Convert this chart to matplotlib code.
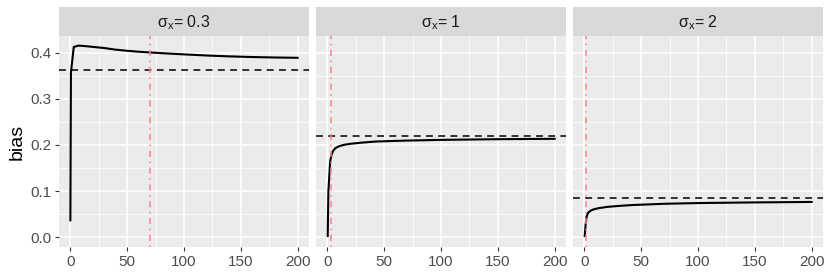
import numpy as np
import matplotlib
matplotlib.use("Agg")
import matplotlib.pyplot as plt
from matplotlib.ticker import MultipleLocator, FormatStrFormatter

plt.rcParams["font.family"] = ["Liberation Sans", "DejaVu Sans"]

# facet labels
facets = ["σ$_{\\mathregular{x}}$= 0.3", "σ$_{\\mathregular{x}}$= 1", "σ$_{\\mathregular{x}}$= 2"]

# bias curve per facet
x1 = [0, 0.5, 3, 7, 10, 15, 20, 30, 40, 50, 60, 70, 85, 100, 120, 140, 160, 180, 200]
y1 = [0.037, 0.357, 0.412, 0.415, 0.4145, 0.4135, 0.4122, 0.4097, 0.4062, 0.4038, 0.4018,
      0.4002, 0.398, 0.396, 0.3936, 0.3917, 0.3903, 0.3893, 0.3886]

x2 = [0.3, 0.9, 2.5, 3.8, 5, 7, 10, 15, 20, 30, 43, 70, 100, 150, 200]
y2 = [0.003, 0.100, 0.165, 0.180, 0.187, 0.193, 0.197, 0.2005, 0.2025, 0.205, 0.2075,
      0.2095, 0.211, 0.2125, 0.2133]

x3 = [0.3, 1, 2, 3, 4, 6, 8, 12, 20, 30, 42, 70, 100, 150, 200]
y3 = [0.003, 0.025, 0.045, 0.052, 0.055, 0.0585, 0.0605, 0.063, 0.066, 0.068, 0.070,
      0.0727, 0.0743, 0.0757, 0.0767]

xs = [x1, x2, x3]
ys = [y1, y2, y3]

# horizontal dashed reference level and vertical marker per facet
h_ref = [0.362, 0.220, 0.085]
v_ref = [70, 3, 1]

fig = plt.figure(figsize=(8.3, 2.77), dpi=100)

W, H = 830, 277
lefts = [59, 316, 573]
pw = 250
top, bottom = 36, 247
strip_top = 7

for i in range(3):
    ax = fig.add_axes([lefts[i] / W, 1 - bottom / H, pw / W, (bottom - top) / H])
    ax.set_facecolor("#EBEBEB")
    for s in ax.spines.values():
        s.set_visible(False)

    ax.set_xlim(-10, 210)
    ax.set_ylim(-0.0208, 0.4358)
    ax.xaxis.set_major_locator(MultipleLocator(50))
    ax.xaxis.set_minor_locator(MultipleLocator(25))
    ax.yaxis.set_major_locator(MultipleLocator(0.1))
    ax.yaxis.set_minor_locator(MultipleLocator(0.05))
    ax.grid(which="major", color="white", lw=1.1)
    ax.grid(which="minor", color="white", lw=0.55)
    ax.set_axisbelow(True)
    ax.tick_params(which="minor", length=0)
    ax.tick_params(which="major", length=2.75, width=0.8, color="#333333",
                   labelsize=11, labelcolor="#4D4D4D", pad=3)
    if i == 0:
        ax.yaxis.set_major_formatter(FormatStrFormatter("%.1f"))
        ax.set_ylabel("bias", fontsize=14, labelpad=3)
    else:
        ax.tick_params(axis="y", which="both", left=False, labelleft=False)

    ax.plot(xs[i], ys[i], color="black", lw=1.5, zorder=3)
    ax.axhline(h_ref[i], color="black", lw=1.1, ls=(0, (4.5, 3.5)), zorder=3)
    ax.axvline(v_ref[i], color="#FF8080", lw=1.1, ls=(0, (1, 3, 4, 3)), zorder=3)

    sax = fig.add_axes([lefts[i] / W, 1 - top / H, pw / W, (top - strip_top) / H])
    sax.set_facecolor("#D9D9D9")
    sax.set_xticks([])
    sax.set_yticks([])
    for s in sax.spines.values():
        s.set_visible(False)
    sax.text(0.5, 0.45, facets[i], ha="center", va="center", fontsize=11.5,
             color="#1A1A1A", transform=sax.transAxes)

plt.savefig("out.png", dpi=100)
